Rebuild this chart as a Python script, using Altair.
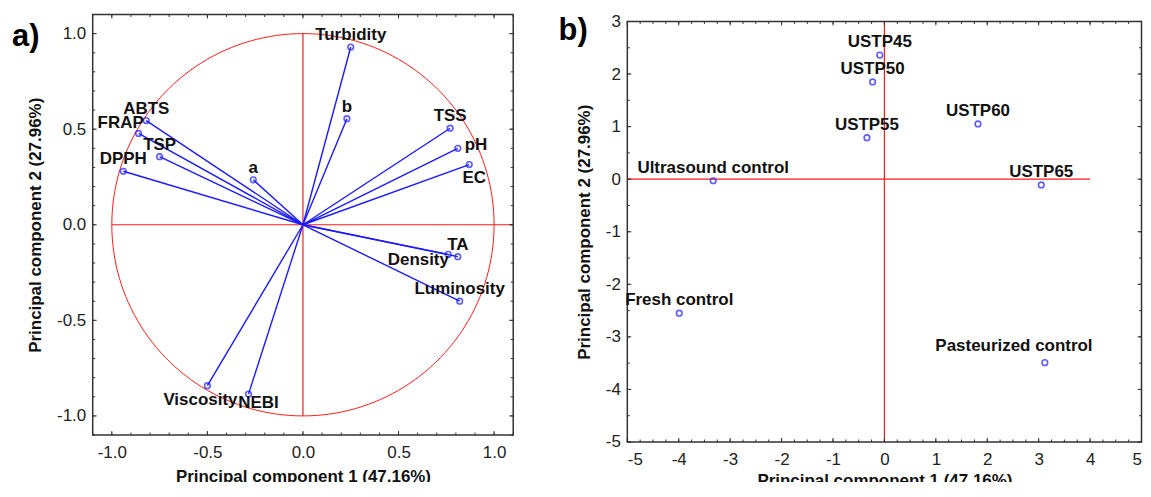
import altair as alt
import pandas as pd

# ---------------- Panel a: variable loadings ----------------
var_names = ["Turbidity", "b", "TSS", "pH", "EC", "ABTS", "FRAP", "TSP", "DPPH", "a",
             "TA", "Density", "Luminosity", "Viscosity", "NEBI"]
var_pc1 = [0.25, 0.23, 0.77, 0.81, 0.87, -0.82, -0.86, -0.75, -0.94, -0.26,
           0.81, 0.76, 0.82, -0.50, -0.285]
var_pc2 = [0.93, 0.555, 0.505, 0.40, 0.315, 0.545, 0.478, 0.356, 0.28, 0.235,
           -0.167, -0.155, -0.40, -0.842, -0.886]

# ---------------- Panel b: sample scores ----------------
sample_names = ["USTP45", "USTP50", "USTP55", "USTP60", "USTP65",
                "Ultrasound control", "Fresh control", "Pasteurized control"]
sample_pc1 = [-0.09, -0.23, -0.34, 1.82, 3.05, -3.33, -3.99, 3.12]
sample_pc2 = [2.36, 1.85, 0.79, 1.05, -0.11, -0.03, -2.55, -3.49]

# ---------------- Axes ----------------
x_title = "Principal component 1 (47.16%)"
y_title = "Principal component 2 (27.96%)"
a_major = [-1.0, -0.5, 0.0, 0.5, 1.0]
a_minor = [round(-1.1 + 0.1 * i, 2) for i in range(23)]
b_x_major = [-5, -4, -3, -2, -1, 0, 1, 2, 3, 4, 5]
b_x_minor = [-5 + 0.25 * i for i in range(41)]
b_y_major = [-5, -4, -3, -2, -1, 0, 1, 2, 3]
b_y_minor = [-5 + 0.5 * i for i in range(17)]

# reference lines through the origin
a_hline_x = [-1.0, 1.1]
a_vline_y = [-1.0, 1.0]
b_hline_x = [-5, 4]
b_vline_y = [-5, 3]

FONT = "Liberation Sans"
BLUE = "#1a1aff"
RED = "#ff1a1a"
FRAME = "#333333"

WA, HA = 422, 422
WB, HB = 516, 422

xa_scale = alt.Scale(domain=[-1.1, 1.1], nice=False, zero=False)
ya_scale = alt.Scale(domain=[-1.1, 1.1], nice=False, zero=False)
xb_scale = alt.Scale(domain=[-5, 5], nice=False, zero=False)
yb_scale = alt.Scale(domain=[-5, 3], nice=False, zero=False)

minus_fix_1 = "replace(format(datum.value, '.1f'), '\u2212', '-')"
minus_fix_0 = "replace(format(datum.value, 'd'), '\u2212', '-')"

AX_A = alt.Axis(values=a_major, labelExpr=minus_fix_1, ticks=False, domain=False, labelFlush=False,
                grid=False, labelPadding=9.5, titlePadding=8)
AY_A = alt.Axis(values=a_major, labelExpr=minus_fix_1, ticks=False, domain=False, labelFlush=False,
                grid=False, labelPadding=7, titlePadding=12.5)
AX_B = alt.Axis(values=b_x_major, labelExpr=minus_fix_0, ticks=False, domain=False,
                grid=False, labelPadding=9.5, titlePadding=5)
AY_B = alt.Axis(values=b_y_major, labelExpr=minus_fix_0, ticks=False, domain=False, labelFlush=False,
                grid=False, labelPadding=7, titlePadding=11.5)


def X(field, panel):
    if panel == "a":
        return alt.X(field, type="quantitative", scale=xa_scale, axis=AX_A, title=x_title)
    return alt.X(field, type="quantitative", scale=xb_scale, axis=AX_B, title=x_title)


def Y(field, panel):
    if panel == "a":
        return alt.Y(field, type="quantitative", scale=ya_scale, axis=AY_A, title=y_title)
    return alt.Y(field, type="quantitative", scale=yb_scale, axis=AY_B, title=y_title)


def ticks_layers(xvals, yvals, panel, W, H, length):
    dfx = pd.DataFrame({"v": xvals})
    dfy = pd.DataFrame({"v": yvals})
    bx = alt.Chart(dfx).mark_rule(color=FRAME, strokeWidth=1)
    by = alt.Chart(dfy).mark_rule(color=FRAME, strokeWidth=1)
    return [
        by.encode(y=Y("v", panel), x=alt.value(0), x2=alt.value(length)),
        by.encode(y=Y("v", panel), x=alt.value(W), x2=alt.value(W - length)),
        bx.encode(x=X("v", panel), y=alt.value(0), y2=alt.value(length)),
        bx.encode(x=X("v", panel), y=alt.value(H), y2=alt.value(H - length)),
    ]


def text_layer(df, names, panel, dx, dy, align="center", include=True):
    pred = alt.FieldOneOfPredicate(field="name", oneOf=names)
    ch = alt.Chart(df)
    ch = ch.transform_filter(pred) if include else ch.transform_filter(~pred)
    return ch.mark_text(font=FONT, fontSize=17, fontWeight="bold", color="#111111",
                        align=align, baseline="middle", dx=dx, dy=dy).encode(
        x=X("x", panel), y=Y("y", panel), text="name:N")


# ================= Panel a =================
df_a = pd.DataFrame({"name": var_names, "x": var_pc1, "y": var_pc2})

circle = alt.Chart(alt.sequence(0, 362, 2, as_="t")).transform_calculate(
    cx="cos(datum.t * PI / 180)", cy="sin(datum.t * PI / 180)"
).mark_line(color=RED, strokeWidth=1, clip=True).encode(
    x=X("cx", "a"), y=Y("cy", "a"), order="t:Q")

hline_a = alt.Chart(pd.DataFrame({"x": [a_hline_x[0]], "x2": [a_hline_x[1]], "y": [0]})).mark_rule(
    color=RED, strokeWidth=1.2).encode(x=X("x", "a"), x2="x2:Q", y=Y("y", "a"))
vline_a = alt.Chart(pd.DataFrame({"y": [a_vline_y[0]], "y2": [a_vline_y[1]], "x": [0]})).mark_rule(
    color=RED, strokeWidth=1.2).encode(y=Y("y", "a"), y2="y2:Q", x=X("x", "a"))

vectors = alt.Chart(df_a).transform_calculate(x0="0", y0="0").mark_rule(
    color=BLUE, strokeWidth=1.4).encode(
    x=X("x0", "a"), x2="x:Q", y=Y("y0", "a"), y2="y:Q")

points_a = alt.Chart(df_a).mark_point(shape="circle", filled=False, size=32,
                                       strokeWidth=1.6, color=BLUE).encode(
    x=X("x", "a"), y=Y("y", "a"))

special_a = ["pH", "EC", "FRAP", "Density", "Viscosity", "NEBI"]
labels_a = [
    text_layer(df_a, special_a, "a", 0, -12, include=False),
    text_layer(df_a, ["pH"], "a", 7, -3, align="left"),
    text_layer(df_a, ["EC"], "a", 5, 14),
    text_layer(df_a, ["FRAP"], "a", -18, -10),
    text_layer(df_a, ["Density"], "a", -30, 6),
    text_layer(df_a, ["Viscosity"], "a", -7, 14),
    text_layer(df_a, ["NEBI"], "a", 10, 9),
]

tag_a = alt.Chart(pd.DataFrame({"t": ["a)"]})).mark_text(
    font=FONT, fontSize=31, fontWeight="bold", color="#000000", align="left",
    baseline="alphabetic").encode(x=alt.value(-81), y=alt.value(32), text="t:N")

ticks_a = (ticks_layers(a_major, a_major, "a", WA, HA, 4)
           + ticks_layers(a_minor, a_minor, "a", WA, HA, 2.5))

panel_a = alt.layer(circle, hline_a, vline_a, vectors, points_a, *labels_a, *ticks_a, tag_a).properties(
    width=WA, height=HA)

# ================= Panel b =================
df_b = pd.DataFrame({"name": sample_names, "x": sample_pc1, "y": sample_pc2})

hline_b = alt.Chart(pd.DataFrame({"x": [b_hline_x[0]], "x2": [b_hline_x[1]], "y": [0]})).mark_rule(
    color=RED, strokeWidth=1.2).encode(x=X("x", "b"), x2="x2:Q", y=Y("y", "b"))
vline_b = alt.Chart(pd.DataFrame({"y": [b_vline_y[0]], "y2": [b_vline_y[1]], "x": [0]})).mark_rule(
    color=RED, strokeWidth=1.2).encode(y=Y("y", "b"), y2="y2:Q", x=X("x", "b"))

points_b = alt.Chart(df_b).mark_point(shape="circle", filled=False, size=32,
                                       strokeWidth=1.6, color=BLUE).encode(
    x=X("x", "b"), y=Y("y", "b"))

labels_b = [
    text_layer(df_b, ["Pasteurized control"], "b", 0, -13, include=False),
    text_layer(df_b, ["Pasteurized control"], "b", -31, -17),
]

tag_b = alt.Chart(pd.DataFrame({"t": ["b)"]})).mark_text(
    font=FONT, fontSize=31, fontWeight="bold", color="#000000", align="left",
    baseline="alphabetic").encode(x=alt.value(-69), y=alt.value(19), text="t:N")

ticks_b = (ticks_layers(b_x_major, b_y_major, "b", WB, HB, 4)
           + ticks_layers(b_x_minor, b_y_minor, "b", WB, HB, 2.5))

panel_b = alt.layer(hline_b, vline_b, points_b, *labels_b, *ticks_b, tag_b).properties(
    width=WB, height=HB)

# an empty strip above panel b sets it slightly lower than panel a
spacer = alt.Chart(pd.DataFrame({"v": [0]})).mark_point(size=0, opacity=0).encode(
    x=alt.value(0), y=alt.value(0)
).properties(width=WB, height=1, view=alt.ViewBackground(stroke=None))

column_b = alt.vconcat(spacer, panel_b, spacing=-4)

chart = alt.hconcat(panel_a, column_b, spacing=42.5).properties(
    padding={"left": 3, "top": 2.7, "right": 0, "bottom": -8.5}
).configure_view(
    stroke=FRAME, strokeWidth=1.5
).configure_axis(
    labelFont=FONT, titleFont=FONT, labelFontSize=17, titleFontSize=17,
    labelColor="#222222", titleColor="#111111", titleFontWeight="bold"
)

chart.save("out.html", embed_options={"renderer": "svg", "actions": False})
